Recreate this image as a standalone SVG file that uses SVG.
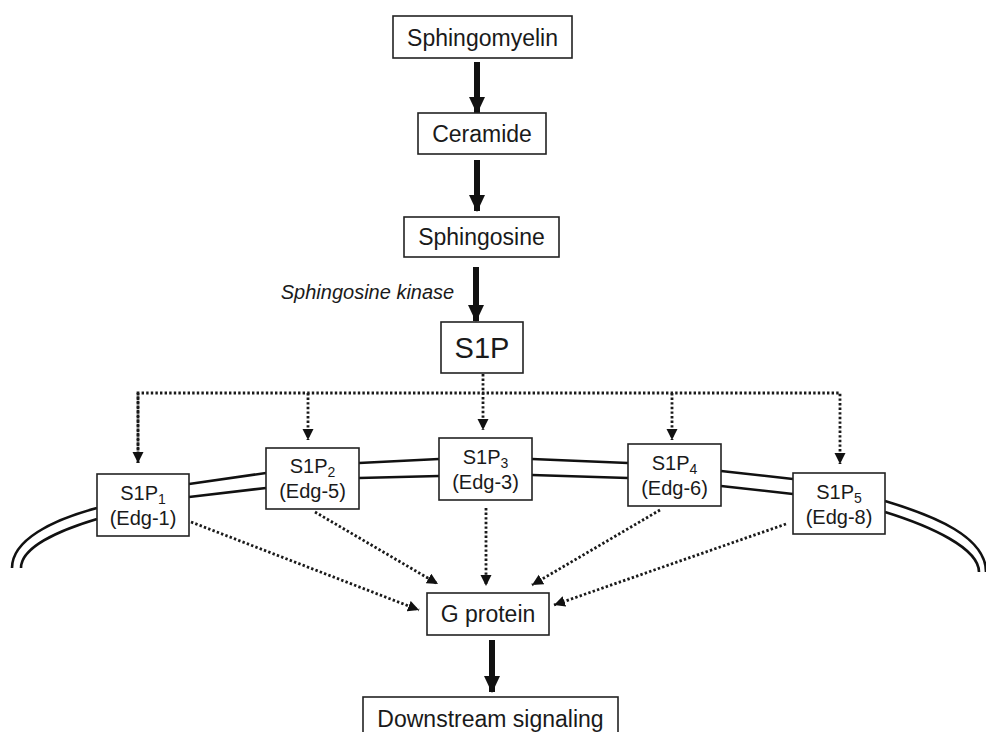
<svg xmlns="http://www.w3.org/2000/svg" width="986" height="732" viewBox="0 0 986 732">
<style>
.box{fill:#fff;stroke:#222;stroke-width:1.6}
.t{font-family:"Liberation Sans",Arial,sans-serif;fill:#1a1a1a;text-anchor:middle}
.big{font-size:23px}
.r{font-size:20px}
.sub{font-size:14px}
.thick{stroke:#111;stroke-width:6;fill:none}
.dot{stroke:#1a1a1a;stroke-width:2.8;fill:none;stroke-dasharray:2.4 2.2}
.mem{stroke:#111;stroke-width:2.6;fill:none}
</style>
<defs>
<marker id="ah" markerUnits="userSpaceOnUse" markerWidth="18" markerHeight="20" refX="16" refY="8" orient="auto">
<path d="M0,0 L17,8 L0,16 Z" fill="#111"/>
</marker>
<marker id="ad" markerUnits="userSpaceOnUse" markerWidth="12" markerHeight="12" refX="11" refY="5.5" orient="auto">
<path d="M0,0 L11,5.5 L0,11 Z" fill="#111"/>
</marker>
</defs>

<g id="membrane">
<path class="mem" d="M97,508 C52,520 12,540 12,568"/>
<path class="mem" d="M97,519 C57,531 21,548 21,568"/>
<line class="mem" x1="189" y1="484" x2="266" y2="473"/>
<line class="mem" x1="189" y1="497" x2="266" y2="488"/>
<line class="mem" x1="359" y1="463" x2="439" y2="459"/>
<line class="mem" x1="359" y1="478" x2="439" y2="476"/>
<line class="mem" x1="532" y1="459" x2="628" y2="463"/>
<line class="mem" x1="532" y1="475" x2="628" y2="478"/>
<line class="mem" x1="721" y1="471" x2="793" y2="479"/>
<line class="mem" x1="721" y1="486" x2="793" y2="494"/>
<path class="mem" d="M885,501 C935,516 986,537 986,572"/>
<path class="mem" d="M885,512 C930,526 979,548 979,572"/>
</g>

<g id="connectors">
<line class="thick" x1="477" y1="62" x2="477" y2="113" marker-end="url(#ah)"/>
<line class="thick" x1="477" y1="160" x2="477" y2="211" marker-end="url(#ah)"/>
<line class="thick" x1="476" y1="267" x2="476" y2="321" marker-end="url(#ah)"/>
<line class="thick" x1="492" y1="640" x2="492" y2="692" marker-end="url(#ah)"/>
<polyline class="dot" points="138,463 138,393 840,393 840,464" marker-end="url(#ad)"/>
<line class="dot" x1="483" y1="374" x2="483" y2="430" marker-end="url(#ad)"/>
<line class="dot" x1="308" y1="393" x2="308" y2="440" marker-end="url(#ad)"/>
<line class="dot" x1="672" y1="393" x2="672" y2="440" marker-end="url(#ad)"/>
<line class="dot" x1="138" y1="393" x2="138" y2="463" marker-end="url(#ad)"/>
<line class="dot" x1="191" y1="522" x2="419" y2="610" marker-end="url(#ad)"/>
<line class="dot" x1="315" y1="512" x2="438" y2="584" marker-end="url(#ad)"/>
<line class="dot" x1="486" y1="508" x2="486" y2="586" marker-end="url(#ad)"/>
<line class="dot" x1="660" y1="510" x2="532" y2="585" marker-end="url(#ad)"/>
<line class="dot" x1="786" y1="524" x2="554" y2="605" marker-end="url(#ad)"/>
</g>

<g id="sphingomyelin">
<rect class="box" x="393" y="16" width="179" height="42"/>
<text class="t big" x="482.5" y="46">Sphingomyelin</text>
</g>
<g id="ceramide">
<rect class="box" x="418" y="113" width="128" height="41"/>
<text class="t big" x="482" y="142">Ceramide</text>
</g>
<g id="sphingosine">
<rect class="box" x="404" y="217" width="155" height="40"/>
<text class="t big" x="481.5" y="245">Sphingosine</text>
</g>
<g id="kinase-label">
<text class="t r" x="367.5" y="299" font-style="italic">Sphingosine kinase</text>
</g>
<g id="s1p">
<rect class="box" x="441" y="322" width="82" height="51"/>
<text class="t" x="482" y="358" font-size="29">S1P</text>
</g>
<g id="s1p1">
<rect class="box" x="97" y="474" width="92" height="62"/>
<text class="t r" x="143" y="500">S1P<tspan class="sub" dy="4">1</tspan></text>
<text class="t r" x="143" y="525">(Edg-1)</text>
</g>
<g id="s1p2">
<rect class="box" x="266" y="448" width="93" height="61"/>
<text class="t r" x="312.5" y="473">S1P<tspan class="sub" dy="4">2</tspan></text>
<text class="t r" x="312.5" y="498">(Edg-5)</text>
</g>
<g id="s1p3">
<rect class="box" x="439" y="438" width="93" height="62"/>
<text class="t r" x="485.5" y="464">S1P<tspan class="sub" dy="4">3</tspan></text>
<text class="t r" x="485.5" y="489">(Edg-3)</text>
</g>
<g id="s1p4">
<rect class="box" x="628" y="444" width="93" height="62"/>
<text class="t r" x="674.5" y="470">S1P<tspan class="sub" dy="4">4</tspan></text>
<text class="t r" x="674.5" y="495">(Edg-6)</text>
</g>
<g id="s1p5">
<rect class="box" x="793" y="473" width="92" height="61"/>
<text class="t r" x="839" y="499">S1P<tspan class="sub" dy="4">5</tspan></text>
<text class="t r" x="839" y="524">(Edg-8)</text>
</g>
<g id="gprotein">
<rect class="box" x="427" y="593" width="122" height="42"/>
<text class="t big" x="488" y="622">G protein</text>
</g>
<g id="downstream">
<rect class="box" x="363" y="697" width="255" height="50"/>
<text class="t big" x="490.5" y="727">Downstream signaling</text>
</g>
</svg>
